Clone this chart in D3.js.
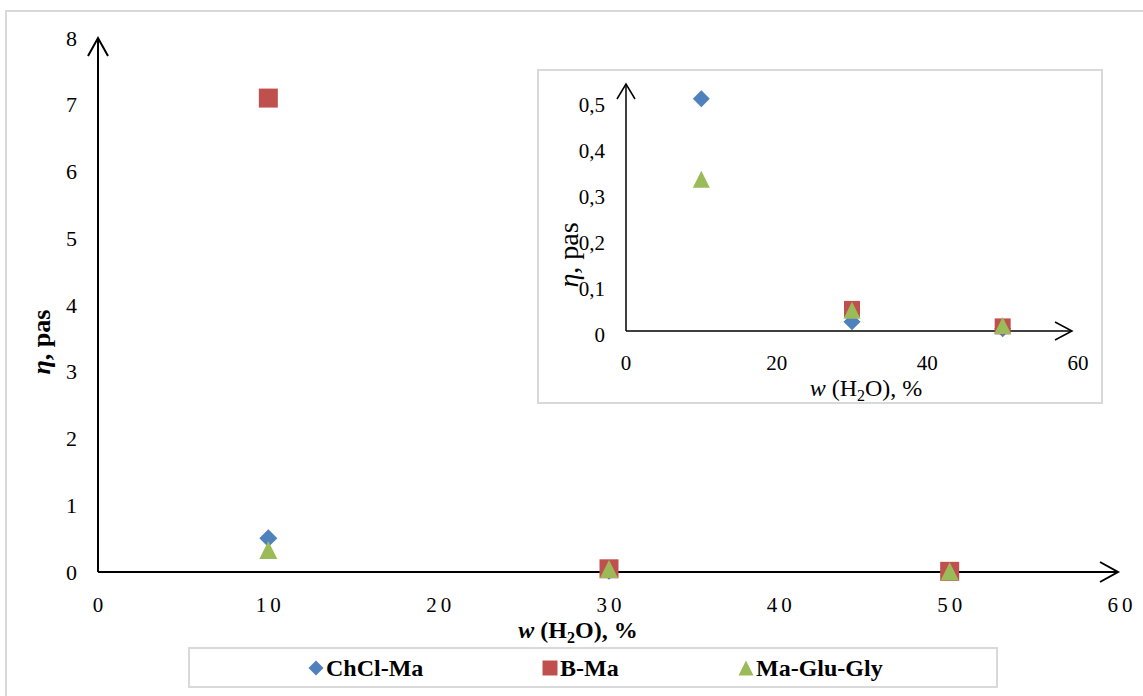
<!DOCTYPE html>
<html><head><meta charset="utf-8">
<script src="https://cdn.jsdelivr.net/npm/d3@7"></script>
<style>body{margin:0;background:#fff}svg{display:block}text{font-family:"Liberation Serif","Times New Roman",serif}</style>
</head><body><svg id="c" width="1143" height="696"></svg>
<script>
const seriesNames = ["ChCl-Ma", "B-Ma", "Ma-Glu-Gly"];
const seriesColors = ["#4F81BD", "#C0504D", "#9BBB59"];
const seriesShapes = ["diamond", "square", "triangle"];
const xValues = [10, 30, 50];
const chclMa = [0.505, 0.02, 0.005];
const bMa = [7.1, 0.048, 0.01];
const maGluGly = [0.33, 0.045, 0.012];
const mainXTicks = [0, 10, 20, 30, 40, 50, 60];
const mainYTicks = [0, 1, 2, 3, 4, 5, 6, 7, 8];
const insetXTicks = [0, 20, 40, 60];
const insetYTicks = [0, 0.1, 0.2, 0.3, 0.4, 0.5];
const insetYLabels = ["0", "0,1", "0,2", "0,3", "0,4", "0,5"];

const seriesValues = [chclMa, bMa, maGluGly];
const svg = d3.select("#c");

function shapePath(shape, s) {
  const h = s / 2;
  if (shape === "square") return `M${-h},${-h}H${h}V${h}H${-h}Z`;
  if (shape === "diamond") return `M0,${-h}L${h},0L0,${h}L${-h},0Z`;
  return `M0,${-h}L${h},${h}L${-h},${h}Z`;
}
const sizes = {diamond: 18, square: 19, triangle: 18};

// outer frame
svg.append("rect").attr("x", 6).attr("y", 11).attr("width", 1150).attr("height", 700)
  .attr("fill", "none").attr("stroke", "#d9d9d9").attr("stroke-width", 2);

// main scales
const x = d3.scaleLinear().domain([0, 60]).range([98, 1120]);
const y = d3.scaleLinear().domain([0, 8]).range([572, 38]);

// y tick labels
svg.append("g").selectAll("text").data(mainYTicks).join("text")
  .attr("x", 77).attr("y", d => y(d)).attr("dy", "0.35em").attr("text-anchor", "end")
  .attr("font-size", 22).attr("fill", "#000").text(d => d);
// x tick labels
svg.append("g").selectAll("text").data(mainXTicks).join("text")
  .attr("x", d => x(d) + 2).attr("y", 605).attr("dy", "0.35em").attr("text-anchor", "middle")
  .attr("font-size", 21).attr("letter-spacing", "4px").attr("fill", "#000").text(d => d);

// axes
svg.append("line").attr("x1", x(0)).attr("y1", y(0)).attr("x2", x(0)).attr("y2", y(8))
  .attr("stroke", "#000").attr("stroke-width", 2);
svg.append("line").attr("x1", x(0)).attr("y1", y(0)).attr("x2", x(60) - 2).attr("y2", y(0))
  .attr("stroke", "#000").attr("stroke-width", 2);
svg.append("path").attr("d", `M${x(0) - 10},${y(8) + 18}L${x(0)},${y(8)}L${x(0) + 10},${y(8) + 18}`)
  .attr("fill", "none").attr("stroke", "#000").attr("stroke-width", 2);
svg.append("path").attr("d", `M${x(60) - 20},${y(0) - 10}L${x(60) - 2},${y(0)}L${x(60) - 20},${y(0) + 10}`)
  .attr("fill", "none").attr("stroke", "#000").attr("stroke-width", 2);

// markers main
seriesValues.forEach((vals, i) => {
  svg.append("g").selectAll("path").data(vals).join("path")
    .attr("d", shapePath(seriesShapes[i], sizes[seriesShapes[i]]))
    .attr("transform", (d, j) => `translate(${x(xValues[j])},${y(d)})`)
    .attr("fill", seriesColors[i]);
});

// axis titles main
const xt = svg.append("text").attr("x", 578).attr("y", 638).attr("text-anchor", "middle")
  .attr("font-size", 24).attr("font-weight", "bold");
xt.append("tspan").attr("font-style", "italic").text("w");
xt.append("tspan").text(" (H");
xt.append("tspan").attr("font-size", 16).attr("dy", 5).text("2");
xt.append("tspan").attr("dy", -5).text("O), %");

const yt = svg.append("text").attr("transform", "translate(50,342) rotate(-90)").attr("text-anchor", "middle")
  .attr("font-size", 26).attr("font-weight", "bold");
yt.append("tspan").attr("font-style", "italic").text("η");
yt.append("tspan").text(", pas");

// legend
svg.append("rect").attr("x", 189).attr("y", 648).attr("width", 808).attr("height", 39)
  .attr("fill", "#fff").attr("stroke", "#d9d9d9").attr("stroke-width", 2);
const legX = [316, 550, 746];
const lg = svg.append("g").selectAll("g").data(seriesNames).join("g")
  .attr("transform", (d, i) => `translate(${legX[i]},668)`);
lg.append("path").attr("d", (d, i) => shapePath(seriesShapes[i], 15))
  .attr("fill", (d, i) => seriesColors[i]);
lg.append("text").attr("x", 10).attr("dy", "0.35em").attr("font-size", 24).attr("font-weight", "bold")
  .text(d => d);

// inset
svg.append("rect").attr("x", 538).attr("y", 70).attr("width", 564).attr("height", 333)
  .attr("fill", "#fff").attr("stroke", "#d9d9d9").attr("stroke-width", 2);
const ix = d3.scaleLinear().domain([0, 60]).range([626, 1078]);
const iy = d3.scaleLinear().domain([0, 0.5]).range([331, 101]);

svg.append("g").selectAll("text").data(insetYTicks).join("text")
  .attr("x", 605).attr("y", d => iy(d) + 4).attr("dy", "0.35em").attr("text-anchor", "end")
  .attr("font-size", 21).text((d, i) => insetYLabels[i]);
svg.append("g").selectAll("text").data(insetXTicks).join("text")
  .attr("x", d => ix(d)).attr("y", 363).attr("dy", "0.35em").attr("text-anchor", "middle")
  .attr("font-size", 21).text(d => d);

svg.append("line").attr("x1", ix(0)).attr("y1", iy(0)).attr("x2", ix(0)).attr("y2", 84)
  .attr("stroke", "#000").attr("stroke-width", 1.5);
svg.append("line").attr("x1", ix(0)).attr("y1", iy(0)).attr("x2", 1072).attr("y2", iy(0))
  .attr("stroke", "#000").attr("stroke-width", 1.5);
svg.append("path").attr("d", `M${ix(0) - 9},${84 + 15}L${ix(0)},84L${ix(0) + 9},${84 + 15}`)
  .attr("fill", "none").attr("stroke", "#000").attr("stroke-width", 1.5);
svg.append("path").attr("d", `M${1072 - 17},${iy(0) - 9}L1072,${iy(0)}L${1072 - 17},${iy(0) + 9}`)
  .attr("fill", "none").attr("stroke", "#000").attr("stroke-width", 1.5);

seriesValues.forEach((vals, i) => {
  svg.append("g").selectAll("path").data(vals).join("path")
    .attr("d", shapePath(seriesShapes[i], seriesShapes[i] === "square" ? 16 : 17))
    .attr("transform", (d, j) => `translate(${ix(xValues[j])},${iy(d)})`)
    .attr("fill", seriesColors[i]);
});

const ixt = svg.append("text").attr("x", 866).attr("y", 396).attr("text-anchor", "middle").attr("font-size", 24);
ixt.append("tspan").attr("font-style", "italic").text("w");
ixt.append("tspan").text(" (H");
ixt.append("tspan").attr("font-size", 16).attr("dy", 5).text("2");
ixt.append("tspan").attr("dy", -5).text("O),  %");

const iyt = svg.append("text").attr("transform", "translate(578,255) rotate(-90)").attr("text-anchor", "middle").attr("font-size", 28);
iyt.append("tspan").attr("font-style", "italic").text("η");
iyt.append("tspan").text(", pas");
</script></body></html>
